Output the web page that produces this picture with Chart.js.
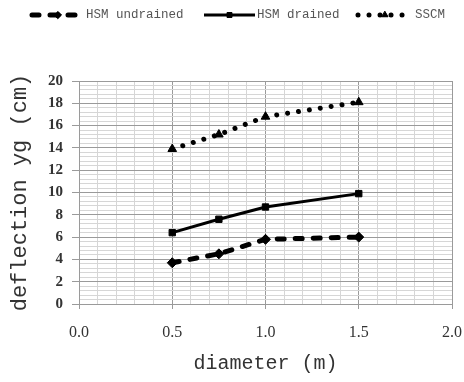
<!DOCTYPE html>
<html>
<head>
<meta charset="utf-8">
<script src="https://cdn.jsdelivr.net/npm/chart.js@4"></script>
<style>
html,body{margin:0;padding:0;background:#fff;}
#wrap{width:464px;height:382px;position:relative;}
</style>
</head>
<body>
<div id="wrap"><canvas id="c" width="464" height="382"></canvas></div>
<script>
// ---- data ----
const diameters = [0.5, 0.75, 1.0, 1.5];
const hsmUndrained = [3.7, 4.5, 5.8, 6.0];
const hsmDrained = [6.4, 7.6, 8.7, 9.9];
const sscm = [13.9, 15.2, 16.8, 18.1];
const seriesNames = ['HSM undrained', 'HSM drained', 'SSCM'];
const xTitle = 'diameter (m)';
const yTitle = 'deflection yg (cm)';

function pts(ys){ return diameters.map((x,i)=>({x:x,y:ys[i]})); }

const isMult = (v, m) => Math.abs(v/m - Math.round(v/m)) < 1e-6;
const MAJOR = '#9a9a9a', MINOR = '#d6d6d6';

const legendPlugin = {
  id: 'customLegend',
  afterDraw(chart) {
    const ctx = chart.ctx;
    const items = [
      {ds: 0, x0: 32, x1: 84, tx: 86},
      {ds: 1, x0: 204, x1: 255, tx: 257},
      {ds: 2, x0: 358, x1: 412, tx: 415}
    ];
    const y = 15;
    ctx.save();
    items.forEach(it => {
      const d = chart.data.datasets[it.ds];
      ctx.strokeStyle = '#000';
      ctx.lineWidth = d.borderWidth;
      ctx.lineCap = d.borderCapStyle || 'butt';
      ctx.setLineDash(d.borderDash || []);
      ctx.beginPath();
      ctx.moveTo(it.x0, y);
      ctx.lineTo(it.x1, y);
      ctx.stroke();
      ctx.setLineDash([]);
      ctx.lineWidth = 1;
      Chart.helpers.drawPoint(ctx, {pointStyle: d.pointStyle, radius: 3.5, rotation: 0, borderWidth: 1}, (it.x0+it.x1)/2, y);
      ctx.fillStyle = '#000';
      ctx.fill();
      ctx.fillStyle = '#555';
      ctx.font = '12.5px "Liberation Mono", monospace';
      ctx.textBaseline = 'middle';
      ctx.textAlign = 'left';
      ctx.fillText(seriesNames[it.ds], it.tx, y);
    });
    ctx.restore();
  }
};

new Chart(document.getElementById('c'), {
  type: 'scatter',
  data: {
    datasets: [
      {label: seriesNames[0], data: pts(hsmUndrained), showLine: true,
       borderColor: '#000', backgroundColor: '#000', borderWidth: 5,
       borderDash: [7, 11], borderCapStyle: 'round',
       pointStyle: 'rectRot', pointRadius: 5, pointBorderWidth: 1},
      {label: seriesNames[1], data: pts(hsmDrained), showLine: true,
       borderColor: '#000', backgroundColor: '#000', borderWidth: 3,
       pointStyle: 'rect', pointRadius: 4.5, pointBorderWidth: 1},
      {label: seriesNames[2], data: pts(sscm), showLine: true,
       borderColor: '#000', backgroundColor: '#000', borderWidth: 5,
       borderDash: [0.01, 11], borderCapStyle: 'round',
       pointStyle: 'triangle', pointRadius: 5, pointBorderWidth: 1}
    ]
  },
  options: {
    responsive: false,
    animation: false,
    devicePixelRatio: 1,
    layout: {padding: {top: 81, right: 12, left: 0, bottom: 0}},
    plugins: {legend: {display: false}, tooltip: {enabled: false}},
    scales: {
      x: {
        type: 'linear', min: 0, max: 2,
        afterFit(s){ s.height = 78; s.paddingLeft = 0; s.paddingRight = 0; },
        ticks: {
          stepSize: 0.1, autoSkip: false, maxTicksLimit: 1000, maxRotation: 0,
          padding: 14, color: '#333',
          font: {family: '"Liberation Serif", serif', size: 16},
          callback: v => isMult(v, 0.5) ? v.toFixed(1) : ''
        },
        grid: {
          color: c => (c.tick && isMult(c.tick.value, 0.5)) ? MAJOR : MINOR,
          tickColor: c => (c.tick && isMult(c.tick.value, 0.5)) ? MAJOR : 'rgba(0,0,0,0)',
          tickLength: 5, lineWidth: 1
        },
        border: {color: MAJOR},
        title: {display: true, text: xTitle, color: '#333',
          font: {family: '"Liberation Mono", monospace', size: 20},
          padding: {top: 0, bottom: 6}}
      },
      y: {
        type: 'linear', min: 0, max: 20,
        afterFit(s){ s.width = 79; s.paddingTop = 0; s.paddingBottom = 0; },
        ticks: {
          stepSize: 0.4, autoSkip: false, maxTicksLimit: 1000,
          padding: 9, color: '#333',
          font: {family: '"Liberation Serif", serif', size: 15, weight: 'bold'},
          callback: v => isMult(v, 2) ? String(Math.round(v)) : ''
        },
        grid: {
          color: c => (c.tick && isMult(c.tick.value, 2)) ? MAJOR : MINOR,
          tickColor: c => (c.tick && isMult(c.tick.value, 2)) ? MAJOR : 'rgba(0,0,0,0)',
          tickLength: 7, lineWidth: 1
        },
        border: {color: MAJOR},
        title: {display: true, text: yTitle, color: '#333',
          font: {family: '"Liberation Mono", monospace', size: 22},
          padding: {top: 7, bottom: 0}}
      }
    }
  },
  plugins: [legendPlugin]
});
</script>
</body>
</html>
